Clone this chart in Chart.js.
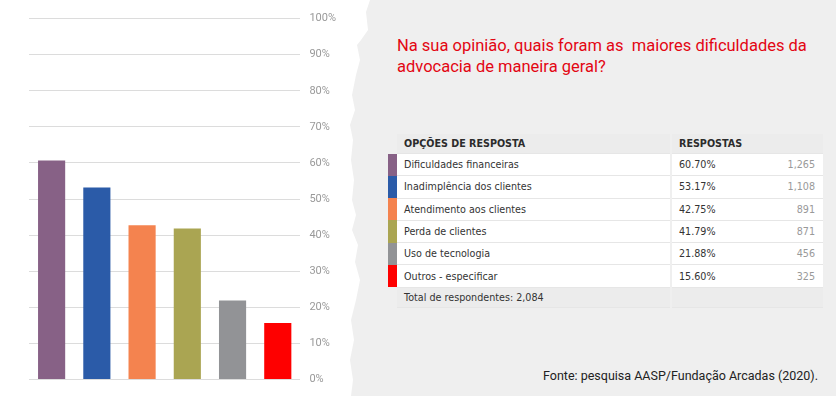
<!DOCTYPE html>
<html>
<head>
<meta charset="utf-8">
<script src="https://cdn.jsdelivr.net/npm/chart.js@4/dist/chart.umd.min.js"></script>
<style>
  html, body { margin: 0; padding: 0; }
  body { width: 836px; height: 396px; background: #fff; position: relative; overflow: hidden; font-family: "DejaVu Sans", sans-serif; }
  #chartBox { position: absolute; left: 0; top: 3px; width: 345px; height: 392px; }
  #paper {
    position: absolute; left: 0; top: 0; width: 836px; height: 396px; background: #efefef;
    clip-path: polygon(370px 0, 366px 12px, 368px 30px, 361px 40px, 357px 45px, 360px 60px, 356px 75px, 352px 95px, 355px 110px, 350px 125px, 353px 140px, 351px 160px, 354px 180px, 352px 200px, 356px 215px, 352px 230px, 358px 245px, 355px 262px, 360px 280px, 356px 300px, 351px 320px, 354px 340px, 350px 360px, 353px 380px, 351px 396px, 836px 396px, 836px 0);
  }
  #title { position: absolute; left: 397px; top: 35px; width: 430px; color: #e30613; font-family: Roboto, "Liberation Sans", sans-serif; font-size: 16.5px; line-height: 21px; white-space: pre; }
  #source { position: absolute; right: 18px; top: 368px; color: #222; font-family: Roboto, "Liberation Sans", sans-serif; font-size: 12.5px; }
  #tbl { position: absolute; left: 388px; top: 134px; border-collapse: collapse; font-size: 9.6px; color: #333; }
  #tbl td { padding: 0; height: 21.3px; border-bottom: 1px solid #e6e6e6; }
  #tbl .sw { width: 9px; border-bottom: none; }
  #tbl .name { width: 266px; padding-left: 7px; background: #fff; border-right: 2px solid #efefef; }
  #tbl .pct { width: 100px; padding-left: 7px; background: #fff; }
  #tbl .cnt { width: 36px; text-align: right; padding-right: 8px; background: #fff; color: #999; }
  #tbl tr.head td { height: 19px; background: #ececec; font-weight: bold; color: #2b2b2b; font-size: 9.6px; }
  #tbl tr.total td { height: 19px; background: #ececec; }
  #tbl tr.head td.sw, #tbl tr.total td.sw { background: transparent; }
</style>
</head>
<body>
<div id="paper"></div>
<div id="chartBox"><canvas id="c"></canvas></div>
<div id="title">Na sua opinião, quais foram as  maiores dificuldades da
advocacia de maneira geral?</div>
<table id="tbl"></table>
<div id="source">Fonte: pesquisa AASP/Fundação Arcadas (2020).</div>
<script>
const categories = ['Dificuldades financeiras', 'Inadimplência dos clientes', 'Atendimento aos clientes', 'Perda de clientes', 'Uso de tecnologia', 'Outros - especificar'];
const percents = [60.70, 53.17, 42.75, 41.79, 21.88, 15.60];
const counts = ['1,265', '1,108', '891', '871', '456', '325'];
const colors = ['#876186', '#2b5ba8', '#f4834f', '#aaa552', '#929396', '#fe0000'];
const totalRespondents = '2,084';

// table next to the chart
const tbl = document.getElementById('tbl');
let html = '<tr class="head"><td class="sw"></td><td class="name">OPÇÕES DE RESPOSTA</td><td class="pct" colspan="2">RESPOSTAS</td></tr>';
categories.forEach((cat, i) => {
  html += '<tr><td class="sw" style="background:' + colors[i] + '"></td><td class="name">' + cat + '</td>' +
    '<td class="pct">' + percents[i].toFixed(2) + '%</td><td class="cnt">' + counts[i] + '</td></tr>';
});
html += '<tr class="total"><td class="sw"></td><td class="name" style="background:#ececec">Total de respondentes: ' + totalRespondents + '</td><td class="pct" colspan="2" style="background:#ececec"></td></tr>';
tbl.innerHTML = html;

new Chart(document.getElementById('c'), {
  type: 'bar',
  data: {
    labels: categories,
    datasets: [{
      data: percents,
      backgroundColor: colors,
      borderWidth: 0,
      barPercentage: 0.6,
      categoryPercentage: 1
    }]
  },
  options: {
    responsive: true,
    maintainAspectRatio: false,
    animation: false,
    layout: { padding: { left: 29, top: 13, bottom: 13 } },
    plugins: { legend: { display: false }, tooltip: { enabled: false } },
    scales: {
      x: { display: false },
      y: {
        position: 'right',
        min: 0,
        max: 100,
        border: { display: false },
        grid: { color: '#dcdcdc', drawTicks: false, lineWidth: 1 },
        ticks: {
          stepSize: 10,
          padding: 9,
          color: '#999',
          font: { family: 'Roboto', size: 11 },
          callback: v => v + '%'
        }
      }
    }
  }
});
</script>
</body>
</html>
